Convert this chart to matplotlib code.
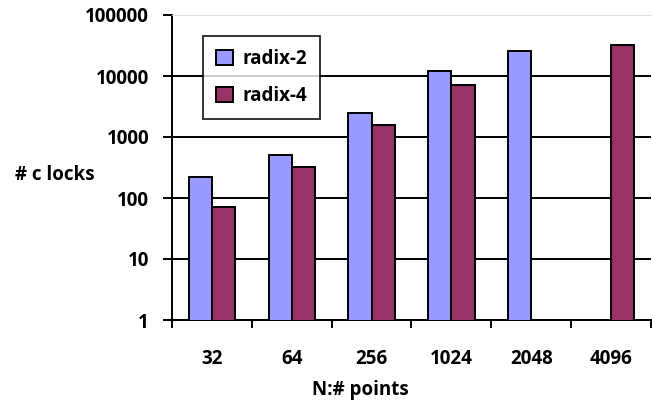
import numpy as np
import matplotlib.pyplot as plt
from matplotlib.ticker import FixedLocator, NullFormatter

# values (log scale)
sizes = ["32", "64", "256", "1024", "2048", "4096"]
radix2 = [224, 507, 2450, 12100, 25700, np.nan]
radix4 = [72, 326, 1570, 7100, np.nan, 32200]
yticks = [1, 10, 100, 1000, 10000, 100000]

plt.rcParams['font.family'] = ['Open Sans', 'DejaVu Sans']
plt.rcParams['font.weight'] = 'bold'
fs = 13.5
lw = 1.4

fig = plt.figure(figsize=(6.52, 4.04), dpi=100)
ax = fig.add_axes([172/652, 84/404, 479/652, 305/404])

x = np.arange(len(sizes))
w = 0.29
ax.bar(x - w/2, radix2, w, color="#9999FF", edgecolor="black", linewidth=lw, label="radix-2", zorder=3)
ax.bar(x + w/2, radix4, w, color="#993366", edgecolor="black", linewidth=lw, label="radix-4", zorder=3)

ax.set_yscale("log")
ax.set_ylim(1, 100000)
ax.set_xlim(-0.5, len(sizes) - 0.5)
ax.yaxis.set_major_locator(FixedLocator(yticks))
ax.yaxis.set_minor_locator(FixedLocator([]))
ax.set_yticklabels([str(v) for v in yticks], fontsize=fs, fontweight='bold')
ax.tick_params(axis='y', which='major', direction='out', length=6.5, width=lw, pad=10)

for v in yticks[1:-1]:
    ax.axhline(v, color="black", linewidth=lw, zorder=1)

ax.set_xticks(x)
ax.set_xticklabels(sizes, fontsize=fs, fontweight='bold')
ax.tick_params(axis='x', which='major', length=0, pad=21)
ax.set_xticks(np.arange(len(sizes) + 1) - 0.5, minor=True)
ax.xaxis.set_minor_formatter(NullFormatter())
ax.tick_params(axis='x', which='minor', direction='out', length=6, width=lw)

ax.spines['right'].set_visible(False)
ax.spines['top'].set_color("#e0e0e0")
ax.spines['left'].set_linewidth(lw)
ax.spines['bottom'].set_linewidth(lw)

ax.set_xlabel("N:# points", fontsize=fs, fontweight='bold')
ax.xaxis.set_label_coords((360 - 172) / 479, -(380 - 320) / 305)
fig.text(15/652, 1 - 175/404, "# c locks", fontsize=fs, fontweight='bold', ha='left', va='center')

leg = ax.legend(loc='upper left', bbox_to_anchor=((203 - 172) / 479, 1 - (36 - 15) / 305),
                fontsize=fs, frameon=True, fancybox=False, borderpad=0.7,
                labelspacing=0.9, handlelength=0.9, handleheight=0.9, handletextpad=0.5,
                borderaxespad=0)
leg.get_frame().set_edgecolor("black")
leg.get_frame().set_linewidth(lw)
leg.set_zorder(5)

fig.savefig("out.png", dpi=100)
